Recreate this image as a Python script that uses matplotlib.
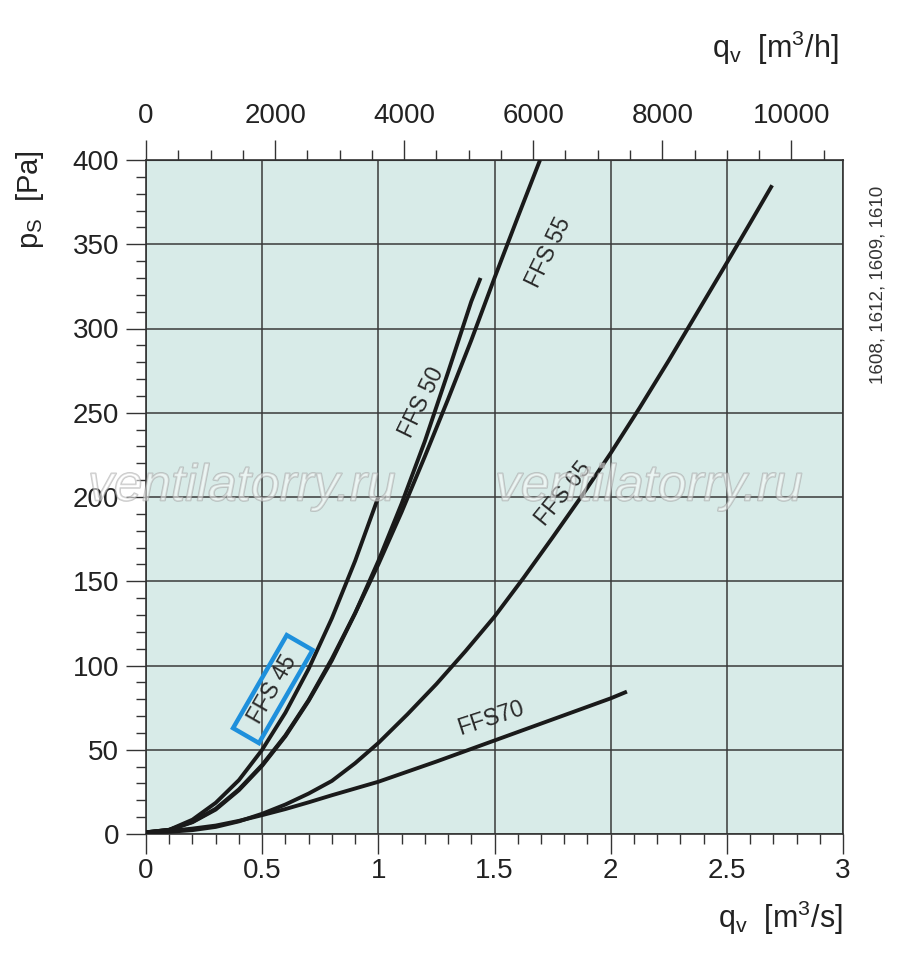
import matplotlib
matplotlib.use("Agg")
import matplotlib.pyplot as plt
import matplotlib.patheffects as pe
import numpy as np

plt.rcParams['font.family'] = ['Liberation Sans', 'DejaVu Sans']
plt.rcParams['mathtext.fontset'] = 'custom'
plt.rcParams['mathtext.rm'] = 'Liberation Sans'
plt.rcParams['mathtext.it'] = 'Liberation Sans'

# ---- data (q in m3/s, p in Pa) ----
ffs45_q = [0, 0.1, 0.2, 0.3, 0.4, 0.5, 0.6, 0.7, 0.8, 0.9, 1.0]
ffs45_p = [1, 2.5, 8.5, 18.5, 32, 50, 72, 98, 128, 162, 200]

ffs50_q = [0, 0.1, 0.2, 0.3, 0.4, 0.5, 0.6, 0.7, 0.8, 0.9, 1.0, 1.1, 1.2, 1.3, 1.4, 1.44]
ffs50_p = [1, 2.5, 7.2, 15, 26.5, 41, 58.5, 79.5, 104, 131, 162, 196, 233, 274, 316, 330]

ffs55_q = [0, 0.1, 0.2, 0.3, 0.4, 0.5, 0.6, 0.7, 0.8, 0.9, 1.0, 1.1, 1.2, 1.3, 1.4, 1.5, 1.6, 1.696]
ffs55_p = [1, 2.4, 7.0, 14.5, 26, 40.5, 58, 79, 103, 131, 160, 191, 224, 258, 293, 330, 366, 400]

ffs65_q = [0, 0.1, 0.2, 0.3, 0.4, 0.5, 0.6, 0.7, 0.8, 0.9, 1.0, 1.125, 1.25, 1.375, 1.5,
           1.625, 1.75, 1.875, 2.0, 2.125, 2.25, 2.375, 2.5, 2.6, 2.695]
ffs65_p = [1, 1.3, 2.3, 4.2, 7.5, 12, 17.5, 24, 31.5, 42, 54, 71, 89, 108.5, 129,
           152, 176, 200.5, 226, 253, 281, 310, 339, 362.5, 385]

ffs70_q = [0, 0.1, 0.2, 0.3, 0.4, 0.5, 0.6, 0.7, 0.8, 0.9, 1.0, 1.25, 1.5, 1.75, 2.0, 2.07]
ffs70_p = [1, 1.8, 3.2, 5, 7.8, 11.2, 14.8, 18.8, 23, 27, 31, 43, 55.5, 68, 80.5, 84.5]

curves = [(ffs45_q, ffs45_p), (ffs50_q, ffs50_p), (ffs55_q, ffs55_p),
          (ffs65_q, ffs65_p), (ffs70_q, ffs70_p)]

# labels: text, q, p, rotation
curve_labels = [("FFS 50", 1.187, 256, 64),
                ("FFS 55", 1.731, 345, 64),
                ("FFS 65", 1.796, 202, 51),
                ("FFS70", 1.485, 69, 18)]
boxed_label = ("FFS 45", 0.546, 86, 60)

x_ticks = [0, 0.5, 1, 1.5, 2, 2.5, 3]
x_tick_labels = ["0", "0.5", "1", "1.5", "2", "2.5", "3"]
y_ticks = [0, 50, 100, 150, 200, 250, 300, 350, 400]
top_ticks = [0, 2000, 4000, 6000, 8000, 10000]

W, H = 900, 969
fig = plt.figure(figsize=(W / 100, H / 100), dpi=100)
fig.patch.set_facecolor('white')
ax = fig.add_axes([146 / W, 1 - 834 / H, (843 - 146) / W, (834 - 160) / H])
ax.set_facecolor('#d8ebe8')
ax.set_xlim(0, 3)
ax.set_ylim(0, 400)

tick_color = '#333333'
lab_color = '#222222'
fs = 20

ax.set_xticks(x_ticks)
ax.set_xticklabels(x_tick_labels)
ax.set_xticks(np.arange(0, 3.01, 0.1), minor=True)
ax.set_yticks(y_ticks)
ax.set_yticks(np.arange(0, 401, 10), minor=True)
ax.tick_params(axis='both', which='major', direction='out', length=14.4, width=1.0,
               color=tick_color, labelsize=fs, labelcolor=lab_color)
ax.tick_params(axis='both', which='minor', direction='out', length=7.2, width=1.0,
               color=tick_color)
ax.tick_params(axis='x', which='major', pad=3)
ax.tick_params(axis='y', which='major', pad=5)

ax.grid(True, which='major', color='#3a3a3a', linewidth=1.1)
ax.set_axisbelow(True)
for s in ax.spines.values():
    s.set_color('#333333')
    s.set_linewidth(1.2)

secax = ax.secondary_xaxis('top', functions=(lambda q: q * 3600.0, lambda m: m / 3600.0))
secax.set_xticks(top_ticks)
secax.set_xticks(np.arange(0, 10801, 500), minor=True)
secax.tick_params(axis='x', which='major', direction='out', length=14.4, width=1.0,
                  color=tick_color, labelsize=fs, labelcolor=lab_color, pad=8)
secax.tick_params(axis='x', which='minor', direction='out', length=7.2, width=1.0,
                  color=tick_color)
secax.spines['top'].set_color('#333333')

for q, p in curves:
    ax.plot(q, p, color='#1a1a1a', linewidth=2.8, solid_capstyle='butt',
            solid_joinstyle='round', zorder=3)

for txt, q, p, rot in curve_labels:
    ax.text(q, p, txt, rotation=rot, rotation_mode='anchor', ha='center', va='center',
            fontsize=16.5, color='#2a2a2a', zorder=4)

t, q, p, rot = boxed_label
ax.text(q, p, "  " + t + "  ", rotation=rot, rotation_mode='anchor', ha='center', va='center',
        fontsize=16.5, color='#2a2a2a', zorder=4,
        bbox=dict(boxstyle='square,pad=0.15', fc='none', ec='#1e90dc', lw=3.2))

# axis titles
fig.text(843 / W, 1 - 918 / H, r'$\mathregular{q_v}$  [m$\mathregular{^3}$/s]',
         ha='right', va='center', fontsize=22, color=lab_color)
fig.text(838 / W, 1 - 48 / H, r'$\mathregular{q_v}$  [m$\mathregular{^3}$/h]',
         ha='right', va='center', fontsize=22, color=lab_color)
fig.text(30 / W, 1 - 200 / H, r'$\mathregular{p_S}$  [Pa]', rotation=90,
         ha='center', va='center', fontsize=21, color=lab_color)
fig.text(878 / W, 1 - 285 / H, "1608, 1612, 1609, 1610", rotation=90,
         ha='center', va='center', fontsize=13.5, color='#333333')

# watermark
for cx in (242, 649):
    fig.text(cx / W, 1 - 487 / H, "ventilatorry.ru", ha='center', va='center',
             fontsize=37, style='italic', color=(1, 1, 1, 0.3), zorder=10,
             path_effects=[pe.withStroke(linewidth=1.2, foreground=(0.62, 0.62, 0.62, 0.55))])

fig.savefig("out.png", dpi=100)
